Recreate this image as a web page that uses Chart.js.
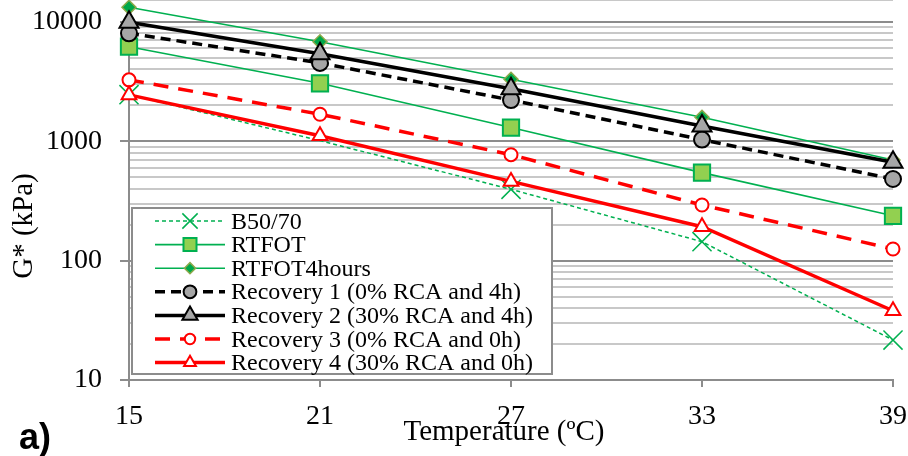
<!DOCTYPE html>
<html><head><meta charset="utf-8">
<script src="https://cdn.jsdelivr.net/npm/chart.js@4.4.0/dist/chart.umd.min.js"></script>
<style>html,body{margin:0;padding:0;background:#fff;}#wrap{width:908px;height:456px;position:relative;}</style>
</head><body><div id="wrap"><canvas id="c" width="908" height="456"></canvas></div>
<script>
// ---- data ----
const categories = [15, 21, 27, 33, 39];
const seriesNames = ['B50/70', 'RTFOT', 'RTFOT4hours', 'Recovery 1 (0% RCA and 4h)', 'Recovery 2 (30% RCA and 4h)', 'Recovery 3 (0% RCA and 0h)', 'Recovery 4 (30% RCA and 0h)'];
const b5070 = [2450, 1010, 395, 144, 21.6];
const rtfot = [6180, 3050, 1300, 545, 237];
const rtfot4h = [13200, 6800, 3300, 1585, 695];
const rec1 = [8000, 4520, 2210, 1030, 482];
const rec2 = [9900, 5400, 2750, 1340, 665];
const rec3 = [3260, 1680, 770, 292, 125];
const rec4 = [2440, 1110, 460, 192, 38];
const yTickLabels = [10, 100, 1000, 10000];
const xTitle = 'Temperature (ºC)';
const yTitle = 'G* (kPa)';
const panelLabel = 'a)';

// ---- styles ----
const GREEN = '#00B050', RED = '#FF0000', GRAY = '#A6A6A6';
const styles = [
  {color: GREEN, width: 1.5, dash: [4, 3], point: 'crossRot', r: 13.5, fill: GREEN, stroke: GREEN, bw: 1.5, hidden: [1]},
  {color: GREEN, width: 1.6, dash: [], point: 'rect', r: 11.5, fill: '#92D050', stroke: GREEN, bw: 2},
  {color: GREEN, width: 1.6, dash: [], point: 'rectRot', r: 7, fill: '#00A84A', stroke: '#8DA94A', bw: 1.5},
  {color: '#000', width: 3.5, dash: [10, 6], point: 'circle', r: 8, fill: GRAY, stroke: '#000', bw: 2},
  {color: '#000', width: 3.5, dash: [], point: 'triangle', r: 11, fill: GRAY, stroke: '#000', bw: 2},
  {color: RED, width: 3.5, dash: [15, 10], point: 'circle', r: 6.5, fill: '#fff', stroke: RED, bw: 2},
  {color: RED, width: 3.5, dash: [], point: 'triangle', r: 8.5, fill: '#fff', stroke: RED, bw: 2}
];
const seriesData = [b5070, rtfot, rtfot4h, rec1, rec2, rec3, rec4];

const yMax = 15200;
const gridValues = [];
for (let i = 0; i < yTickLabels.length - 1; i++) {
  for (let m = 1; m < 10; m++) gridValues.push(yTickLabels[i] * m);
}
gridValues.push(yTickLabels[yTickLabels.length - 1]);
gridValues.push(yMax);

const SERIF = '"Liberation Serif", "Times New Roman", serif';

function drawMarker(ctx, st, scale, x, y) {
  const r = st.r * scale;
  ctx.save();
  ctx.lineWidth = st.bw;
  ctx.strokeStyle = st.stroke;
  ctx.fillStyle = st.fill;
  ctx.setLineDash([]);
  ctx.beginPath();
  if (st.point === 'circle') {
    ctx.arc(x, y, r, 0, Math.PI * 2);
  } else if (st.point === 'rect') {
    const s = Math.SQRT1_2 * r;
    ctx.rect(x - s, y - s, 2 * s, 2 * s);
  } else if (st.point === 'rectRot') {
    ctx.moveTo(x - r, y); ctx.lineTo(x, y - r); ctx.lineTo(x + r, y); ctx.lineTo(x, y + r); ctx.closePath();
  } else if (st.point === 'triangle') {
    let a = 0;
    ctx.moveTo(x + Math.sin(a) * r, y - Math.cos(a) * r);
    a += 2 * Math.PI / 3; ctx.lineTo(x + Math.sin(a) * r, y - Math.cos(a) * r);
    a += 2 * Math.PI / 3; ctx.lineTo(x + Math.sin(a) * r, y - Math.cos(a) * r);
    ctx.closePath();
  } else if (st.point === 'crossRot') {
    const o = Math.SQRT1_2 * r;
    ctx.moveTo(x - o, y - o); ctx.lineTo(x + o, y + o);
    ctx.moveTo(x + o, y - o); ctx.lineTo(x - o, y + o);
    ctx.stroke(); ctx.restore(); return;
  }
  ctx.fill();
  ctx.stroke();
  ctx.restore();
}

const decor = {
  id: 'decor',
  afterDraw(chart) {
    const ctx = chart.ctx;
    ctx.save();
    ctx.fillStyle = '#000';
    ctx.textBaseline = 'alphabetic';
    // x title
    ctx.font = '29px ' + SERIF;
    ctx.textAlign = 'center';
    ctx.fillText(xTitle, 504, 440);
    // y title
    ctx.save();
    ctx.translate(32, 226);
    ctx.rotate(-Math.PI / 2);
    ctx.fillText(yTitle, 0, 0);
    ctx.restore();
    // panel label
    ctx.font = 'bold 36px "Liberation Sans", Arial, sans-serif';
    ctx.textAlign = 'left';
    ctx.fillText(panelLabel, 19, 449);
    // legend box
    const bx = 132, by = 208, bw = 420, bh = 166;
    ctx.fillStyle = '#fff';
    ctx.fillRect(bx, by, bw, bh);
    ctx.strokeStyle = '#8c8c8c';
    ctx.lineWidth = 2;
    ctx.strokeRect(bx, by, bw, bh);
    ctx.font = '24px ' + SERIF;
    for (let i = 0; i < seriesNames.length; i++) {
      const st = styles[i];
      const ry = 221 + i * 23.6;
      ctx.save();
      ctx.strokeStyle = st.color;
      ctx.lineWidth = st.width;
      ctx.setLineDash(st.dash);
      ctx.beginPath();
      ctx.moveTo(155, ry); ctx.lineTo(225, ry);
      ctx.stroke();
      ctx.restore();
      drawMarker(ctx, st, 0.8, 190, ry);
      ctx.fillStyle = '#000';
      ctx.textAlign = 'left';
      ctx.fillText(seriesNames[i], 231, ry + 7.5);
    }
    ctx.restore();
  }
};

const datasets = seriesData.map((d, i) => {
  const st = styles[i];
  const hid = st.hidden || [];
  const radii = d.map((_, j) => hid.includes(j) ? 0 : st.r);
  return {
    label: seriesNames[i],
    data: d,
    borderColor: st.color,
    borderWidth: st.width,
    borderDash: st.dash,
    pointStyle: st.point,
    pointRadius: radii,
    pointHoverRadius: radii,
    pointBackgroundColor: st.fill,
    pointBorderColor: st.stroke,
    pointBorderWidth: st.bw,
    tension: 0,
    fill: false,
    clip: false,
    order: seriesData.length - i
  };
});

new Chart(document.getElementById('c'), {
  type: 'line',
  data: {labels: categories.map(String), datasets},
  options: {
    responsive: false,
    animation: false,
    devicePixelRatio: 1,
    layout: {autoPadding: false, padding: {left: 0, right: 15, top: 0, bottom: 0}},
    plugins: {legend: {display: false}, tooltip: {enabled: false}},
    scales: {
      x: {
        type: 'category',
        offset: false,
        grid: {drawOnChartArea: false, offset: false, tickLength: 7, color: '#8c8c8c', lineWidth: 2},
        border: {color: '#8c8c8c', width: 2},
        ticks: {font: {family: SERIF, size: 28}, color: '#000', padding: 13, maxRotation: 0, autoSkip: false},
        afterFit(s) { s.height = 76; s.paddingLeft = 0; s.paddingRight = 0; }
      },
      y: {
        type: 'logarithmic',
        min: 10,
        max: yMax,
        afterBuildTicks(s) { s.ticks = gridValues.map(v => ({value: v, major: yTickLabels.includes(v)})); },
        grid: {
          color: c => (c.tick && yTickLabels.includes(c.tick.value)) ? '#8c8c8c' : '#c8c8c8',
          tickColor: c => (c.tick && yTickLabels.includes(c.tick.value)) ? '#8c8c8c' : 'rgba(0,0,0,0)',
          lineWidth: 2,
          tickLength: 9
        },
        border: {color: '#8c8c8c', width: 2},
        ticks: {
          font: {family: SERIF, size: 28}, color: '#000', padding: 18, autoSkip: false,
          callback: v => yTickLabels.includes(v) ? String(v) : ''
        },
        afterFit(s) { s.width = 129; s.paddingTop = 0; s.paddingBottom = 0; }
      }
    }
  },
  plugins: [decor]
});
</script></body></html>
